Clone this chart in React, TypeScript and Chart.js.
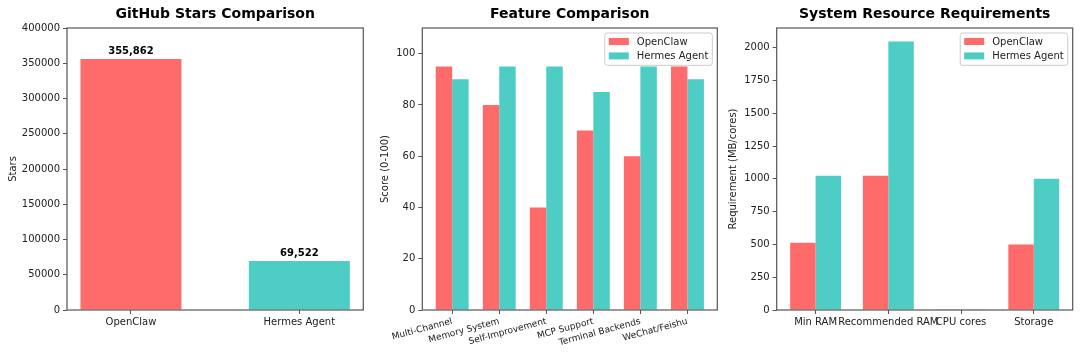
import React, { useEffect, useRef } from 'react';
import { Chart, registerables } from 'chart.js';

Chart.register(...registerables);

const FONT = "'DejaVu Sans', 'Liberation Sans', sans-serif";

// ---- data ----
const seriesNames = ['OpenClaw', 'Hermes Agent'];

const starCategories = ['OpenClaw', 'Hermes Agent'];
const starValues = [355862, 69522];
const starTicks = [0, 50000, 100000, 150000, 200000, 250000, 300000, 350000, 400000];

const featureCategories = ['Multi-Channel', 'Memory System', 'Self-Improvement', 'MCP Support', 'Terminal Backends', 'WeChat/Feishu'];
const featureOpenClaw = [95, 80, 40, 70, 60, 95];
const featureHermes = [90, 95, 95, 85, 95, 90];
const featureTicks = [0, 20, 40, 60, 80, 100];

const resourceCategories = ['Min RAM', 'Recommended RAM', 'CPU cores', 'Storage'];
const resourceOpenClaw = [512, 1024, 1, 500];
const resourceHermes = [1024, 2048, 2, 1000];
const resourceTicks = [0, 250, 500, 750, 1000, 1250, 1500, 1750, 2000];

// ---- styles ----
const RED = '#FF6B6B';
const TEAL = '#4ECDC4';
const AXIS = '#555555';
const TEXT = '#222222';
const starColors = [RED, TEAL];

type Panel = {
  left: number; width: number; yWidth: number; padRight: number;
  title: string; yTitle: string;
  xMin: number; xMax: number; yMax: number;
  categories: string[]; yTicks: number[];
  datasets: { label: string; values: number[]; color: string }[];
  rotate: number; xFont: number;
  legend: boolean; valueLabels: boolean;
  barPct: number; catPct: number;
};

const panels: Panel[] = [
  {
    left: 1, width: 369, yWidth: 66, padRight: 6.7,
    title: 'GitHub Stars Comparison', yTitle: 'Stars',
    xMin: -0.38, xMax: 1.38, yMax: 400000,
    categories: starCategories, yTicks: starTicks,
    datasets: [{ label: 'Stars', values: starValues, color: RED }],
    rotate: 0, xFont: 10, legend: false, valueLabels: true, barPct: 0.6, catPct: 1,
  },
  {
    left: 373, width: 347, yWidth: 49.3, padRight: 2.7,
    title: 'Feature Comparison', yTitle: 'Score (0-100)',
    xMin: -0.635, xMax: 5.635, yMax: 110,
    categories: featureCategories, yTicks: featureTicks,
    datasets: [
      { label: seriesNames[0], values: featureOpenClaw, color: RED },
      { label: seriesNames[1], values: featureHermes, color: TEAL },
    ],
    rotate: 15, xFont: 9, legend: true, valueLabels: false, barPct: 1, catPct: 0.7,
  },
  {
    left: 721, width: 359, yWidth: 55.7, padRight: 7.3,
    title: 'System Resource Requirements', yTitle: 'Requirement (MB/cores)',
    xMin: -0.535, xMax: 3.535, yMax: 2150.4,
    categories: resourceCategories, yTicks: resourceTicks,
    datasets: [
      { label: seriesNames[0], values: resourceOpenClaw, color: RED },
      { label: seriesNames[1], values: resourceHermes, color: TEAL },
    ],
    rotate: 0, xFont: 10, legend: true, valueLabels: false, barPct: 1, catPct: 0.7,
  },
];

function decorPlugin(p: Panel, idx: number) {
  return {
    id: 'panelDecor' + idx,
    afterDatasetsDraw(chart: any) {
      if (!p.valueLabels) return;
      const ctx = chart.ctx;
      const meta = chart.getDatasetMeta(0);
      ctx.save();
      ctx.font = `bold 10px ${FONT}`;
      ctx.fillStyle = '#000';
      ctx.textAlign = 'center';
      ctx.textBaseline = 'alphabetic';
      meta.data.forEach((el: any, i: number) => {
        ctx.fillText(p.datasets[0].values[i].toLocaleString('en-US'), el.x, el.y - 5);
      });
      ctx.restore();
    },
    afterDraw(chart: any) {
      const ctx = chart.ctx;
      const a = chart.chartArea;
      ctx.save();
      // frame
      ctx.strokeStyle = AXIS;
      ctx.lineWidth = 1.2;
      ctx.strokeRect(a.left, a.top, a.right - a.left, a.bottom - a.top);
      // title
      ctx.font = `bold 14px ${FONT}`;
      ctx.fillStyle = '#000';
      ctx.textAlign = 'center';
      ctx.textBaseline = 'alphabetic';
      ctx.fillText(p.title, (a.left + a.right) / 2, 17.8);
      // legend
      if (p.legend) {
        ctx.font = `10px ${FONT}`;
        const tw = Math.max(...p.datasets.map((d) => ctx.measureText(d.label).width));
        const w = 4 + 20 + 8 + tw + 4;
        const h = 32.3;
        const right = a.right - 5;
        const x = right - w;
        const y = a.top + 5;
        ctx.beginPath();
        if (ctx.roundRect) ctx.roundRect(x, y, w, h, 2.5);
        else ctx.rect(x, y, w, h);
        ctx.fillStyle = 'rgba(255,255,255,0.8)';
        ctx.fill();
        ctx.strokeStyle = '#cccccc';
        ctx.lineWidth = 1;
        ctx.stroke();
        p.datasets.forEach((d, i) => {
          const ry = y + 5 + i * 14.4;
          ctx.fillStyle = d.color;
          ctx.fillRect(x + 4, ry, 20, 7);
          ctx.fillStyle = TEXT;
          ctx.textAlign = 'left';
          ctx.fillText(d.label, x + 32, ry + 7);
        });
      }
      ctx.restore();
    },
  };
}

function makeConfig(p: Panel, idx: number): any {
  const gridOpts = {
    display: true,
    drawOnChartArea: false,
    drawTicks: true,
    tickLength: 4,
    color: AXIS,
    offset: false,
  };
  return {
    type: 'bar',
    data: {
      datasets: p.datasets.map((d) => ({
        label: d.label,
        data: d.values.map((v, i) => ({ x: i, y: v })),
        backgroundColor: p.valueLabels ? starColors : d.color,
        borderWidth: 0,
        categoryPercentage: p.catPct,
        barPercentage: p.barPct,
      })),
    },
    options: {
      animation: false,
      responsive: false,
      maintainAspectRatio: false,
      layout: { padding: { top: 28, right: p.padRight, left: 0, bottom: 0 } },
      plugins: {
        legend: { display: false },
        tooltip: { enabled: false },
        title: { display: false },
      },
      scales: {
        x: {
          type: 'linear',
          min: p.xMin,
          max: p.xMax,
          offset: false,
          afterBuildTicks: (s: any) => {
            s.ticks = p.categories.map((_, i) => ({ value: i }));
          },
          afterFit: (s: any) => {
            s.height = 45;
          },
          grid: gridOpts,
          border: { display: false },
          ticks: {
            autoSkip: false,
            maxRotation: p.rotate,
            minRotation: p.rotate,
            padding: 2,
            color: TEXT,
            font: { family: FONT, size: p.xFont },
            callback: (_v: any, i: number) => p.categories[i] ?? '',
          },
        },
        y: {
          type: 'linear',
          min: 0,
          max: p.yMax,
          afterBuildTicks: (s: any) => {
            s.ticks = p.yTicks.map((v) => ({ value: v }));
          },
          afterFit: (s: any) => {
            s.width = p.yWidth;
          },
          grid: gridOpts,
          border: { display: false },
          ticks: {
            padding: 3,
            color: TEXT,
            font: { family: FONT, size: 10 },
            callback: (v: any) => String(v),
          },
          title: {
            display: true,
            text: p.yTitle,
            color: TEXT,
            font: { family: FONT, size: 10 },
            padding: { top: 6, bottom: 0 },
          },
        },
      },
    },
    plugins: [decorPlugin(p, idx)],
  };
}

export default function App() {
  const r0 = useRef<HTMLCanvasElement>(null);
  const r1 = useRef<HTMLCanvasElement>(null);
  const r2 = useRef<HTMLCanvasElement>(null);
  const refs = [r0, r1, r2];

  useEffect(() => {
    Chart.defaults.font.family = FONT;
    const charts = panels.map((p, i) => new Chart(refs[i].current as HTMLCanvasElement, makeConfig(p, i)));
    return () => charts.forEach((c) => c.destroy());
  }, []);

  return (
    <div style={{ position: 'fixed', left: 0, top: 0, width: 1080, height: 355, background: '#fff' }}>
      {panels.map((p, i) => (
        <canvas
          key={i}
          ref={refs[i]}
          width={p.width}
          height={355}
          style={{ position: 'absolute', left: p.left, top: 0, width: p.width, height: 355 }}
        />
      ))}
    </div>
  );
}
